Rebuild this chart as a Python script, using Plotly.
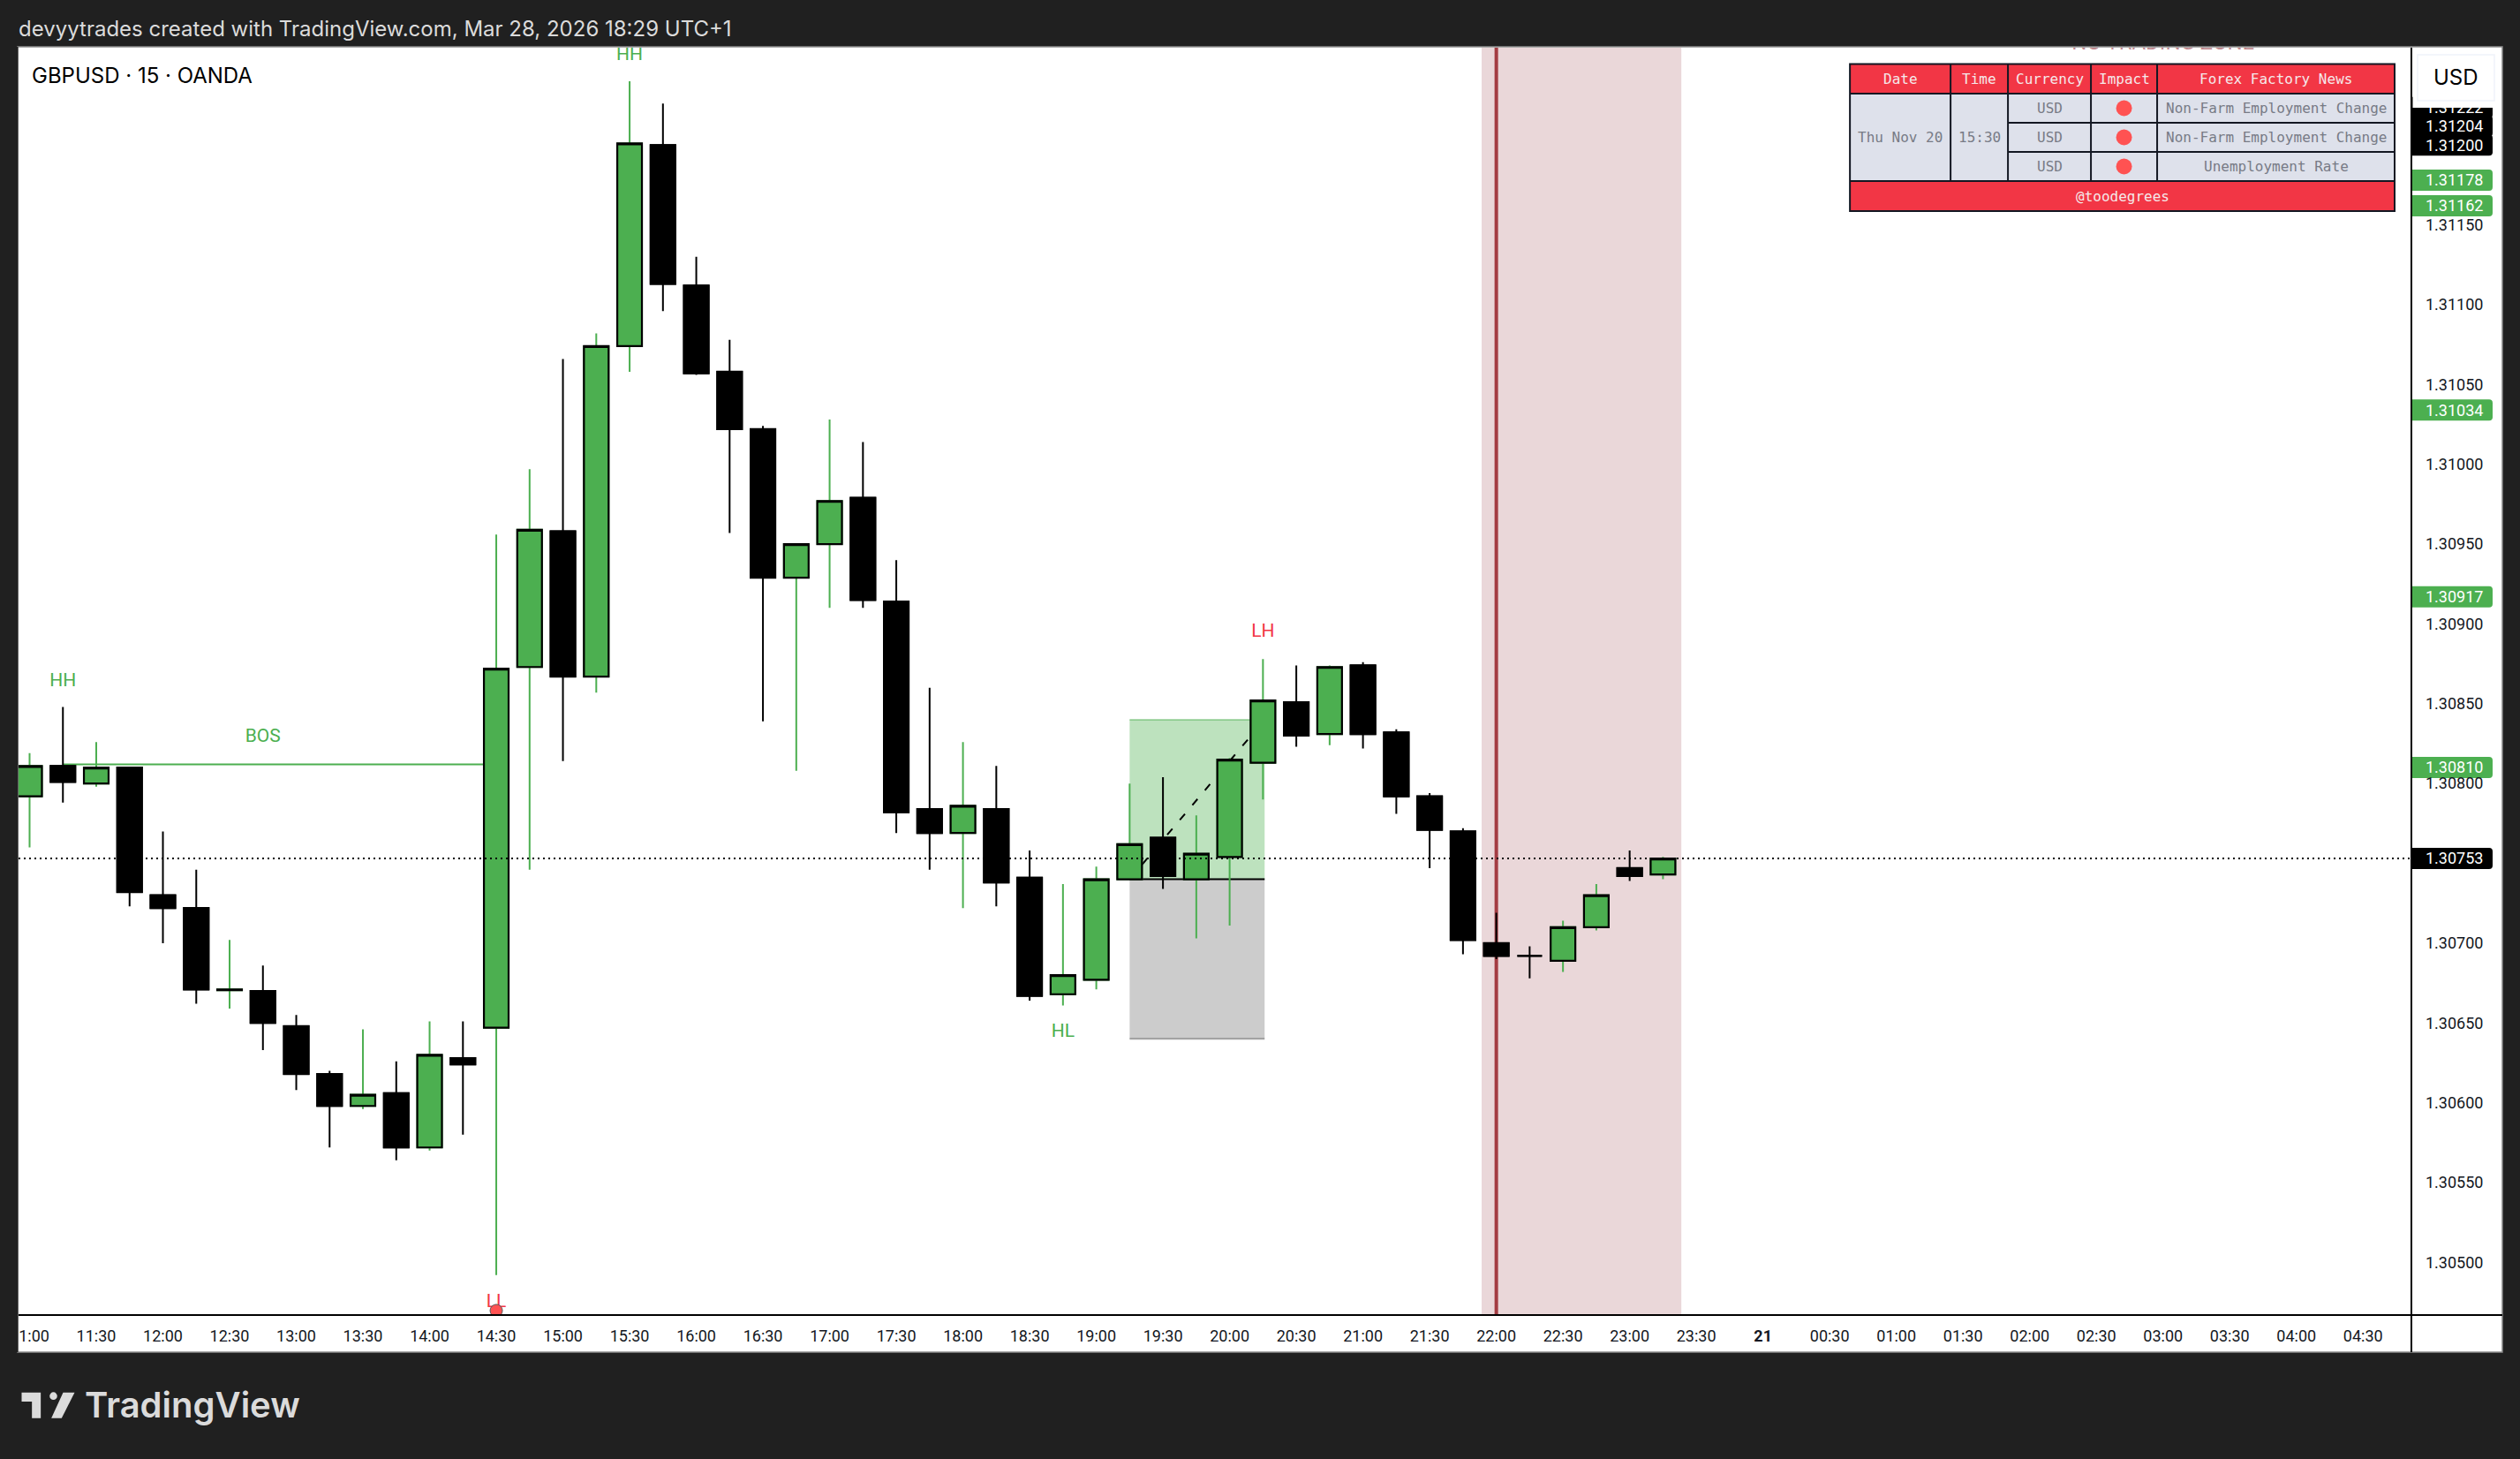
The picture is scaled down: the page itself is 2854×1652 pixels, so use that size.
import pandas as pd
import plotly.graph_objects as go

# ---------------------------------------------------------------- data
bar_times = pd.date_range("2025-11-20 11:00", periods=50, freq="15min")

opens = [1.30792, 1.30811, 1.30800, 1.30810, 1.30730, 1.30722, 1.306705, 1.30670, 1.30648, 1.30618,
         1.30598, 1.30606, 1.30572, 1.30628, 1.30647, 1.30873, 1.30958, 1.30867, 1.31074, 1.31200,
         1.31112, 1.31058, 1.31022, 1.30929, 1.30950, 1.30979, 1.30914, 1.30784, 1.30769, 1.30784,
         1.30741, 1.30668, 1.30677, 1.30740, 1.30766, 1.30740, 1.30754, 1.30813, 1.30851, 1.30831,
         1.30874, 1.30832, 1.30792, 1.30770, 1.30700, 1.30692, 1.30689, 1.30710, 1.30747, 1.30743]
highs = [1.30819, 1.30848, 1.30826, 1.30810, 1.30770, 1.30746, 1.30702, 1.30686, 1.30655, 1.30620,
         1.30646, 1.30626, 1.30651, 1.30651, 1.30956, 1.30997, 1.31066, 1.31082, 1.31240, 1.31226,
         1.31130, 1.31078, 1.31024, 1.30950, 1.31028, 1.31014, 1.30940, 1.30860, 1.30826, 1.30811,
         1.30758, 1.30737, 1.30748, 1.30800, 1.30804, 1.30780, 1.30816, 1.30878, 1.30874, 1.30874,
         1.30876, 1.30834, 1.30794, 1.30772, 1.30719, 1.30698, 1.30714, 1.30737, 1.30758, 1.30754]
lows = [1.30760, 1.30788, 1.30798, 1.30723, 1.30700, 1.30662, 1.30659, 1.30633, 1.30608, 1.30572,
        1.30596, 1.30564, 1.30570, 1.30580, 1.30492, 1.30746, 1.30814, 1.30857, 1.31058, 1.31096,
        1.31056, 1.30957, 1.30839, 1.30808, 1.30910, 1.30910, 1.30769, 1.30746, 1.30722, 1.30723,
        1.30664, 1.30661, 1.30671, 1.30740, 1.30734, 1.30703, 1.30711, 1.30790, 1.30823, 1.30824,
        1.30822, 1.30781, 1.30747, 1.30693, 1.30690, 1.30678, 1.30682, 1.30708, 1.30739, 1.30740]
closes = [1.30811, 1.30801, 1.30810, 1.30732, 1.30722, 1.30671, 1.30671, 1.30650, 1.30618, 1.30598,
          1.30605, 1.30572, 1.30630, 1.30624, 1.30872, 1.30959, 1.30867, 1.31074, 1.31201, 1.31113,
          1.31057, 1.31022, 1.30929, 1.30950, 1.30977, 1.30915, 1.30782, 1.30769, 1.30786, 1.30738,
          1.30667, 1.30680, 1.30740, 1.30762, 1.30742, 1.30756, 1.30815, 1.30852, 1.30830, 1.30873,
          1.30831, 1.30792, 1.30771, 1.30702, 1.30692, 1.30692, 1.30710, 1.30730, 1.30742, 1.30753]
body_tops = [max(o, c) for o, c in zip(opens, closes)]
body_bottoms = [min(o, c) for o, c in zip(opens, closes)]

last_price = 1.30753
bos_level = 1.30812
long_entry = 1.30740
long_target = 1.30840
long_stop = 1.30640

axis_prices = ["1.30500", "1.30550", "1.30600", "1.30650", "1.30700", "1.30800", "1.30850", "1.30900",
               "1.30950", "1.31000", "1.31050", "1.31100", "1.31150"]
black_tags = ["1.31222", "1.31204", "1.31200", "1.30753"]
green_tags = ["1.31178", "1.31162", "1.31034", "1.30917", "1.30810"]
tag_display_shift = {"1.31222": 0.000015, "1.31204": 0.000079}

time_tick_labels = ["11:00", "11:30", "12:00", "12:30", "13:00", "13:30", "14:00", "14:30", "15:00", "15:30",
                    "16:00", "16:30", "17:00", "17:30", "18:00", "18:30", "19:00", "19:30", "20:00", "20:30",
                    "21:00", "21:30", "22:00", "22:30", "23:00", "23:30", "<b>21</b>", "00:30", "01:00", "01:30",
                    "02:00", "02:30", "03:00", "03:30", "04:00", "04:30"]

swing_labels = ["HH", "HH", "BOS", "HL", "LH", "LL"]
swing_bars = [1, 18, 7, 31, 37, 14]
swing_prices = [1.30864, 1.31256, 1.30829, 1.30644, 1.30895, 1.30475]
swing_colors = ["#4CAF50", "#4CAF50", "#4CAF50", "#4CAF50", "#F23645", "#F23645"]

table_header = ["Date", "Time", "Currency", "Impact", "Forex Factory News"]
table_date = "Thu Nov 20"
table_time = "15:30"
table_currency = ["USD", "USD", "USD"]
table_news = ["Non-Farm Employment Change", "Non-Farm Employment Change", "Unemployment Rate"]
table_footer = "@toodegrees"

# ---------------------------------------------------------------- layout geometry (pixels)
W, H = 2854, 1652
L, R, T, B = 20.5, 2731.0, 54.0, 1489.0
FRAME_R, FRAME_B = 2834.0, 1531.0
BAR_PX = 37.76


def px(x):
    return (x - L) / (R - L)


def py(y):
    return (B - y) / (B - T)


def when(bar, minutes=0.0):
    t = bar_times[0] + pd.Timedelta(minutes=15 * bar + minutes)
    return t.strftime("%Y-%m-%dT%H:%M:%S")


x_start = when(-12.5 / BAR_PX)
x_end = when((R - 33.0) / BAR_PX)
shapes, annotations = [], []


def rect(x0, y0, x1, y1, fill, layer="above", line=None, lw=0):
    shapes.append(dict(type="rect", xref="paper", yref="paper", x0=px(x0), x1=px(x1), y0=py(y1), y1=py(y0),
                       fillcolor=fill, layer=layer, line=dict(color=line or fill, width=lw)))


def label(x, y, text, size, color, family="Roboto", anchor="center", weight=None):
    font = dict(family=family, size=size, color=color)
    if weight:
        font["weight"] = weight
    annotations.append(dict(xref="paper", yref="paper", x=px(x), y=py(y), text=text, showarrow=False, font=font,
                            xanchor=anchor, yanchor="middle", borderpad=0, borderwidth=0))


def pixel_poly(points, fill, layer="above"):
    path = "M " + " L ".join(f"{px(a):.6f},{py(b):.6f}" for a, b in points) + " Z"
    shapes.append(dict(type="path", xref="paper", yref="paper", path=path, fillcolor=fill, layer=layer,
                       line=dict(width=0)))


def price_tag(y, fill):
    x0, x1, r, h = R, 2823.0, 4.0, 12.0
    path = (f"M {px(x0):.6f},{py(y-h):.6f} L {px(x1-r):.6f},{py(y-h):.6f} Q {px(x1):.6f},{py(y-h):.6f} {px(x1):.6f},{py(y-h+r):.6f} "
            f"L {px(x1):.6f},{py(y+h-r):.6f} Q {px(x1):.6f},{py(y+h):.6f} {px(x1-r):.6f},{py(y+h):.6f} L {px(x0):.6f},{py(y+h):.6f} Z")
    shapes.append(dict(type="path", xref="paper", yref="paper", path=path, fillcolor=fill, layer="below",
                       line=dict(width=0)))


def price_to_px(p):
    return B - (p - 1.30467) / (1.31261 - 1.30467) * (B - T)


# ---- chart frame: white panel, below everything
rect(L - 1, T - 1, FRAME_R, FRAME_B, "#FFFFFF", layer="below", line="#8C8C8C", lw=1.5)

# ---- marks living on the data axes, under the candles
shapes.append(dict(type="rect", xref="x", yref="paper", x0=when(43.56), x1=when(49.55), y0=0, y1=1,
                   fillcolor="rgba(150,55,65,0.2)", line=dict(width=0), layer="below"))
shapes.append(dict(type="line", xref="x", yref="paper", x0=when(44), x1=when(44), y0=0, y1=1,
                   line=dict(color="#A33C42", width=4), layer="below"))
shapes.append(dict(type="path", xref="x", yref="y", layer="below", fillcolor="#F23645", line=dict(width=0),
                   path=f"M {when(3,-6.6)},1.30842 L {when(3,6.6)},1.30842 L {when(3)},1.30823 Z"))
shapes.append(dict(type="path", xref="x", yref="y", layer="below", fillcolor="#4CAF50", line=dict(width=0),
                   path=f"M {when(33,-6.7)},1.30708 L {when(33,6.7)},1.30708 L {when(33)},1.30726 Z"))
shapes.append(dict(type="rect", xref="x", yref="y", x0=when(33), x1=when(37.05), y0=long_entry, y1=long_target,
                   fillcolor="rgba(76,175,80,0.37)", line=dict(width=0), layer="below"))
shapes.append(dict(type="rect", xref="x", yref="y", x0=when(33), x1=when(37.05), y0=long_stop, y1=long_entry,
                   fillcolor="rgba(0,0,0,0.2)", line=dict(width=0), layer="below"))
shapes.append(dict(type="line", xref="x", yref="y", x0=when(33), x1=when(37.05), y0=long_target, y1=long_target,
                   line=dict(color="rgba(76,175,80,0.45)", width=2), layer="below"))
shapes.append(dict(type="line", xref="x", yref="y", x0=when(33), x1=when(37.05), y0=long_stop, y1=long_stop,
                   line=dict(color="rgba(0,0,0,0.3)", width=2), layer="below"))
shapes.append(dict(type="line", xref="x", yref="y", x0=when(33), x1=when(37.05), y0=long_entry, y1=long_entry,
                   line=dict(color="#000000", width=2), layer="below"))
shapes.append(dict(type="line", xref="x", yref="y", x0=when(33), x1=when(37.05), y0=long_entry, y1=long_target,
                   line=dict(color="#000000", width=2, dash="9px,13px"), layer="below"))
shapes.append(dict(type="line", xref="x", yref="y", x0=when(1), x1=when(14), y0=bos_level, y1=bos_level,
                   line=dict(color="#4CAF50", width=2), layer="below"))

# ---- price tags (their text is the axis tick label)
for t in black_tags:
    price_tag(price_to_px(float(t) + tag_display_shift.get(t, 0)), "#000000")
for t in green_tags:
    price_tag(price_to_px(float(t)), "#4CAF50")

# ---- axes rules
shapes.append(dict(type="line", xref="paper", yref="paper", x0=px(R), x1=px(R), y0=py(FRAME_B), y1=1,
                   line=dict(color="#000000", width=2), layer="above"))
shapes.append(dict(type="line", xref="paper", yref="paper", x0=px(L), x1=px(FRAME_R), y0=0, y1=0,
                   line=dict(color="#000000", width=2), layer="above"))

# ---- the dark surround that also trims the first time label
rect(0, T - 1, L - 0.5, FRAME_B, "#202020")

# ---- currency button
rect(R + 1.5, T, FRAME_R - 1, 122, "#FFFFFF")
shapes.append(dict(type="rect", xref="paper", yref="paper", x0=px(2738), x1=px(2825), y0=py(114), y1=py(62),
                   fillcolor="#FFFFFF", line=dict(color="#F0F3FA", width=1.5), layer="above"))
label(2781.5, 87.5, "USD", 24, "#000000", "Inter")

# ---- news table
col_edges = [2095, 2209, 2274, 2368, 2443, 2712]
row_edges = [72.5, 106, 139, 172, 205, 239]
RED, CELL, INK, BORDER = "#F23645", "#DEE1EB", "#787B86", "#131722"
MONO = "DejaVu Sans Mono"
rect(col_edges[0] - 1, row_edges[0] - 1, col_edges[-1] + 1, row_edges[-1] + 1, BORDER)
for i, head in enumerate(table_header):
    rect(col_edges[i] + 1, row_edges[0] + 1, col_edges[i + 1] - 1, row_edges[1] - 1, RED)
    label((col_edges[i] + col_edges[i + 1]) / 2, (row_edges[0] + row_edges[1]) / 2, head, 16, "#F5E9EA", MONO)
for i, text in enumerate([table_date, table_time]):
    rect(col_edges[i] + 1, row_edges[1] + 1, col_edges[i + 1] - 1, row_edges[4] - 1, CELL)
    label((col_edges[i] + col_edges[i + 1]) / 2, (row_edges[1] + row_edges[4]) / 2, text, 16, INK, MONO)
for r in range(3):
    y0, y1 = row_edges[r + 1], row_edges[r + 2]
    for c in (2, 3, 4):
        rect(col_edges[c] + 1, y0 + 1, col_edges[c + 1] - 1, y1 - 1, CELL)
    cy = (y0 + y1) / 2
    cx = (col_edges[3] + col_edges[4]) / 2
    label((col_edges[2] + col_edges[3]) / 2, cy, table_currency[r], 16, INK, MONO)
    label((col_edges[4] + col_edges[5]) / 2, cy, table_news[r], 16, INK, MONO)
    shapes.append(dict(type="circle", xref="paper", yref="paper", x0=px(cx - 9), x1=px(cx + 9), y0=py(cy + 9),
                       y1=py(cy - 9), fillcolor="#FF5252", line=dict(width=0), layer="above"))
rect(col_edges[0] + 1, row_edges[4] + 1, col_edges[-1] - 1, row_edges[5] - 1, RED)
label((col_edges[0] + col_edges[-1]) / 2, (row_edges[4] + row_edges[5]) / 2, table_footer, 16, "#F5E9EA", MONO)

# ---- header / footer text
label(20, 32, "devyytrades created with TradingView.com, Mar 28, 2026 18:29 UTC+1", 24, "#DBDBDB", "Inter", anchor="left")
label(36, 86, "GBPUSD · 15 · OANDA", 24, "#000000", "Inter", anchor="left")
label(96, 1591, "TradingView", 40, "#DBDBDB", "Inter", anchor="left", weight=600)


def logo(a, b):
    return 10 + a / 3, 1565 + b / 3


pixel_poly([logo(42, 35), logo(107, 35), logo(107, 122), logo(77, 122), logo(77, 66), logo(42, 66)], "#DBDBDB")
pixel_poly([logo(183, 35), logo(222, 35), logo(178, 122), logo(143, 122)], "#DBDBDB")
dot_x, dot_y = logo(150, 47)
shapes.append(dict(type="circle", xref="paper", yref="paper", x0=px(dot_x - 4.3), x1=px(dot_x + 4.3),
                   y0=py(dot_y + 4.3), y1=py(dot_y - 4.3), fillcolor="#DBDBDB", line=dict(width=0), layer="above"))

# ---------------------------------------------------------------- traces
fig = go.Figure()
fig.add_trace(go.Candlestick(
    x=bar_times, open=opens, high=highs, low=lows, close=closes, whiskerwidth=0,
    increasing=dict(line=dict(color="#4CAF50", width=2), fillcolor="rgba(0,0,0,0)"),
    decreasing=dict(line=dict(color="#000000", width=2), fillcolor="rgba(0,0,0,0)"),
    hoverinfo="skip", showlegend=False))
fig.add_trace(go.Candlestick(
    x=bar_times, open=opens, high=body_tops, low=body_bottoms, close=closes, whiskerwidth=0,
    increasing=dict(line=dict(color="#000000", width=2.2), fillcolor="#4CAF50"),
    decreasing=dict(line=dict(color="#000000", width=2.2), fillcolor="#000000"),
    hoverinfo="skip", showlegend=False))
fig.add_trace(go.Scatter(
    x=[x_start, x_end], y=[last_price, last_price], mode="lines",
    line=dict(color="#000000", width=2, dash="2px,4px"), hoverinfo="skip", showlegend=False))
fig.add_trace(go.Scatter(
    x=[when(b) for b in swing_bars], y=swing_prices, mode="text", text=swing_labels,
    textposition="middle center", textfont=dict(family="Roboto", size=21, color=swing_colors),
    hoverinfo="skip", showlegend=False))
fig.add_trace(go.Scatter(
    x=[when(14)], y=[1.304698], mode="markers",
    marker=dict(symbol="circle", size=14, color="#FF5252", line=dict(color="#555555", width=1)),
    hoverinfo="skip", showlegend=False))
fig.add_trace(go.Scatter(
    x=[when(64)], y=[1.312634], mode="text", text=["NO TRADING ZONE"], textposition="middle center",
    textfont=dict(family="Roboto", size=24, color="rgba(150,55,65,0.6)"), hoverinfo="skip", showlegend=False))

# ---------------------------------------------------------------- axes
tick_vals = [float(v) for v in axis_prices]
tick_text = list(axis_prices)
for t in black_tags + green_tags:
    tick_vals.append(float(t) + tag_display_shift.get(t, 0))
    tick_text.append(f'<span style="color:#FFFFFF">{t}</span>')

time_ticks = [when(2 * i) for i in range(len(time_tick_labels))]

fig.update_layout(
    width=W, height=H, paper_bgcolor="#202020", plot_bgcolor="rgba(0,0,0,0)",
    margin=dict(l=L, r=W - R, t=T, b=H - B, pad=0, autoexpand=False),
    showlegend=False, hovermode=False, dragmode=False,
    boxmode="overlay", boxgap=0.26, boxgroupgap=0,
    shapes=shapes, annotations=annotations,
    font=dict(family="Roboto", size=18, color="#000000"),
    xaxis=dict(type="date", range=[x_start, x_end], rangeslider=dict(visible=False), showgrid=False, zeroline=False,
               showline=False, ticks="", tickmode="array", tickvals=time_ticks, ticktext=time_tick_labels,
               tickangle=0, tickfont=dict(family="Roboto", size=18, color="#131722"), ticklabelstandoff=11),
    yaxis=dict(side="right", range=[1.30467, 1.31261], showgrid=False, zeroline=False, showline=False, ticks="",
               tickmode="array", tickvals=tick_vals, ticktext=tick_text,
               tickfont=dict(family="Roboto", size=18, color="#131722"), ticklabelstandoff=15),
)

fig.write_html(
    "out.html",
    config={"displayModeBar": False, "staticPlot": True},
    post_script="document.body.style.margin='0';document.body.style.background='#202020';"
                "document.documentElement.style.overflow='hidden';",
)
